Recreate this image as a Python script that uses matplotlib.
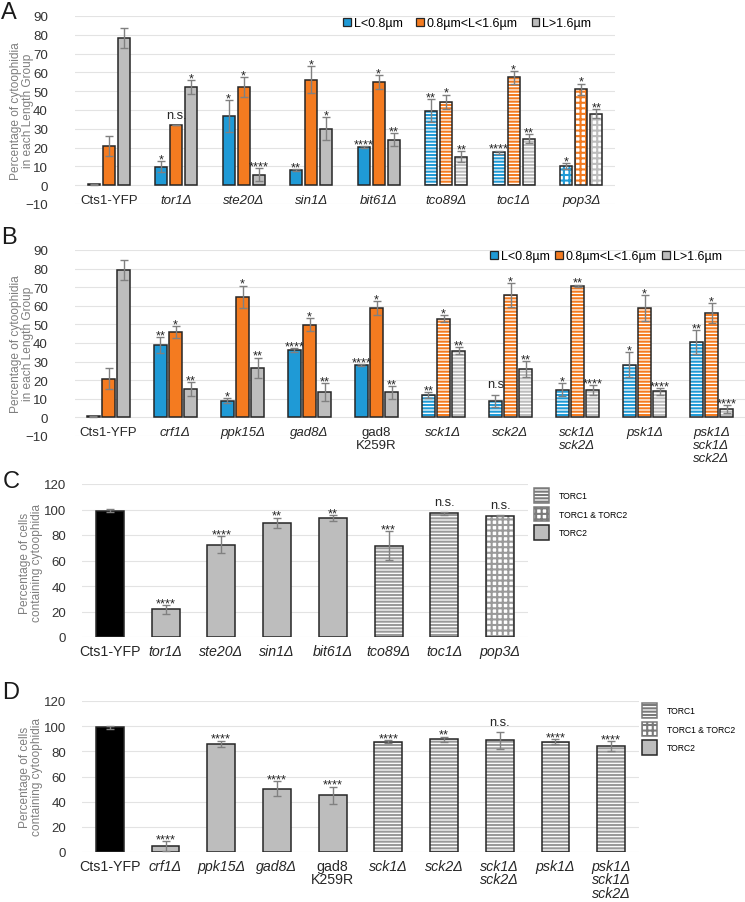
import numpy as np
import matplotlib.pyplot as plt
import matplotlib as mpl
from matplotlib.patches import Patch

mpl.rc('font', family=['Liberation Sans', 'DejaVu Sans'])
mpl.rc('hatch', linewidth=1.5)

W, H = 745, 903
blue = '#1f9ad6'
orange = '#f47b20'
grey = '#bdbdbd'
edge = '#262626'
errc = '#808080'

# ---------- panel A ----------
a_labels = ['Cts1-YFP', 'tor1Δ', 'ste20Δ', 'sin1Δ', 'bit61Δ', 'tco89Δ', 'toc1Δ', 'pop3Δ']
a_pattern = ['', '', '', '', '', '-', '-', '+']
a_short = [0.5, 9.9, 36.7, 7.9, 20.3, 39.7, 17.6, 10.2]
a_short_err = [0.3, 2.9, 8.5, 0.5, 0.4, 6.2, 0.8, 1.6]
a_mid = [20.8, 32.1, 52.2, 56.1, 55.0, 44.4, 57.3, 51.1]
a_mid_err = [5.3, 0.0, 5.3, 7.3, 3.7, 3.8, 3.3, 2.9]
a_long = [78.5, 52.2, 5.5, 30.0, 24.3, 15.2, 24.7, 38.1]
a_long_err = [5.3, 3.5, 3.4, 6.2, 3.4, 2.9, 2.4, 2.4]
a_short_sig = ['', '*', '*', '**', '****', '**', '****', '*']
a_mid_sig = ['', 'n.s.', '*', '*', '*', '*', '*', '*']
a_long_sig = ['', '*', '****', '*', '**', '**', '**', '**']

# ---------- panel B ----------
b_labels = ['Cts1-YFP', 'crf1Δ', 'ppk15Δ', 'gad8Δ', 'gad8\nK259R', 'sck1Δ', 'sck2Δ',
            'sck1Δ\nsck2Δ', 'psk1Δ', 'psk1Δ\nsck1Δ\nsck2Δ']
b_pattern = ['', '', '', '', '', '-', '-', '-', '-', '-']
b_short = [0.5, 38.8, 8.9, 36.3, 28.1, 12.0, 8.9, 15.0, 28.3, 40.6]
b_short_err = [0.3, 4.2, 1.4, 0.9, 0.5, 1.7, 3.4, 3.4, 6.7, 6.4]
b_mid = [20.9, 46.0, 64.8, 49.9, 58.9, 53.1, 65.7, 70.7, 58.7, 56.0]
b_mid_err = [5.6, 3.2, 6.1, 3.6, 3.8, 1.8, 6.3, 0.7, 6.9, 5.4]
b_long = [79.1, 15.2, 26.7, 13.8, 13.4, 35.8, 25.9, 14.7, 14.0, 4.5]
b_long_err = [5.4, 3.6, 5.5, 4.8, 3.6, 1.8, 4.3, 2.7, 1.8, 2.0]
b_short_sig = ['', '**', '*', '****', '****', '**', 'n.s', '*', '*', '**']
b_mid_sig = ['', '*', '*', '*', '*', '*', '*', '**', '*', '*']
b_long_sig = ['', '**', '**', '**', '**', '**', '**', '****', '****', '****']

len_names = ['L<0.8µm', '0.8µm<L<1.6µm', 'L>1.6µm']

# ---------- panel C ----------
c_labels = ['Cts1-YFP', 'tor1Δ', 'ste20Δ', 'sin1Δ', 'bit61Δ', 'tco89Δ', 'toc1Δ', 'pop3Δ']
c_group = ['wt', 'TORC2', 'TORC2', 'TORC2', 'TORC2', 'TORC1', 'TORC1', 'TORC1 & TORC2']
c_vals = [99.1, 21.6, 72.5, 89.5, 93.4, 71.7, 97.0, 95.2]
c_err = [1.4, 3.5, 6.6, 4.2, 2.1, 11.3, 1.0, 0.5]
c_sig = ['', '****', '****', '**', '**', '***', 'n.s.', 'n.s.']

# ---------- panel D ----------
d_labels = ['Cts1-YFP', 'crf1Δ', 'ppk15Δ', 'gad8Δ', 'gad8\nK259R', 'sck1Δ', 'sck2Δ',
            'sck1Δ\nsck2Δ', 'psk1Δ', 'psk1Δ\nsck1Δ\nsck2Δ']
d_group = ['wt', 'TORC2', 'TORC2', 'TORC2', 'TORC2', 'TORC1', 'TORC1', 'TORC1', 'TORC1', 'TORC1']
d_vals = [99.0, 4.7, 85.8, 50.4, 45.1, 87.7, 89.5, 88.7, 87.7, 84.3]
d_err = [1.0, 3.7, 2.6, 6.2, 6.9, 1.3, 2.1, 6.8, 2.1, 3.7]
d_sig = ['', '****', '****', '****', '****', '****', '**', 'n.s.', '****', '****']

torc_names = ['TORC1', 'TORC1 & TORC2', 'TORC2']
hatches = {'-': '-----', '+': '+++'}


def draw_bar(ax, x, h, w, color, pat):
    if pat:
        ax.bar(x, h, w, color='white', edgecolor=color, hatch=hatches[pat], lw=0)
    else:
        ax.bar(x, h, w, color=color, lw=0)
    ax.bar(x, h, w, fill=False, edgecolor=edge, lw=1.1)


def sig_text(ax, x, top, s, fs):
    if not s:
        return
    if s.startswith('n'):
        ax.annotate(s, (x, top), xytext=(0, 3), textcoords='offset points',
                    ha='center', va='bottom', fontsize=fs, color='#262626')
    else:
        ax.annotate(s, (x, top), xytext=(0, -3), textcoords='offset points',
                    ha='center', va='bottom', fontsize=fs, color='#262626')


def style(ax, ticks, ylim, n, pad, fs):
    ax.set_ylim(*ylim)
    ax.set_xlim(-0.5, n - 0.5)
    ax.set_yticks(ticks)
    ax.yaxis.grid(True, color='#e3e3e3', lw=0.8)
    ax.set_axisbelow(True)
    for s in ax.spines.values():
        s.set_visible(False)
    ax.tick_params(left=False, bottom=False, labelbottom=False, pad=pad,
                   labelsize=fs, labelcolor='#333333')


def xlabels(ax, labels, fs, off, ls):
    for i, lab in enumerate(labels):
        ax.annotate(lab, (i, 0), xytext=(0, off), textcoords='offset points',
                    ha='center', va='top', fontsize=fs, color='#262626',
                    style='italic' if 'Δ' in lab else 'normal', linespacing=ls)


def grouped(ax, labels, pattern, series, errs, sigs):
    x = np.arange(len(labels))
    w, off = 0.18, 0.224
    colors = [blue, orange, grey]
    for k in range(3):
        xs = x + (k - 1) * off
        for i in range(len(labels)):
            draw_bar(ax, xs[i], series[k][i], w, colors[k], pattern[i])
        ax.errorbar(xs, series[k], yerr=errs[k], fmt='none', ecolor=errc,
                    elinewidth=1, capsize=3, capthick=1)
        for i in range(len(labels)):
            sig_text(ax, xs[i], series[k][i] + errs[k][i], sigs[k][i], 9.3)
    style(ax, range(-10, 91, 10), (-10, 90), len(labels), 16, 9.6)
    xlabels(ax, labels, 9.5, -6, 1.15)


def single(ax, labels, group, vals, err, sig):
    x = np.arange(len(labels))
    for i in range(len(labels)):
        g = group[i]
        if g == 'wt':
            draw_bar(ax, x[i], vals[i], 0.5, 'black', '')
        elif g == 'TORC2':
            draw_bar(ax, x[i], vals[i], 0.5, grey, '')
        elif g == 'TORC1':
            draw_bar(ax, x[i], vals[i], 0.5, '#9a9a9a', '-')
        else:
            draw_bar(ax, x[i], vals[i], 0.5, '#9a9a9a', '+')
    ax.errorbar(x, vals, yerr=err, fmt='none', ecolor=errc, elinewidth=1,
                capsize=3, capthick=1)
    for i in range(len(labels)):
        sig_text(ax, x[i], vals[i] + err[i], sig[i], 9.3)
    style(ax, range(0, 121, 20), (0, 120), len(labels), 8, 9.5)
    xlabels(ax, labels, 10.2, -5, 0.95)


def torc_legend(fig, x, y):
    handles = [Patch(facecolor='white', edgecolor='#7a7a7a', hatch='-----', lw=1.1),
               Patch(facecolor='white', edgecolor='#7a7a7a', hatch='+++', lw=1.1),
               Patch(facecolor=grey, edgecolor=edge, lw=1.1)]
    fig.legend(handles, torc_names, loc='upper left', bbox_to_anchor=(x / W, 1 - y / H),
               frameon=False, fontsize=6.2, handlelength=1.7, handleheight=2.24,
               handletextpad=1.2, labelspacing=0.45, borderpad=0, borderaxespad=0)


fig = plt.figure(figsize=(W / 100, H / 100), dpi=100)

axA = fig.add_axes([75 / W, 1 - 205 / H, 540 / W, 188 / H])
grouped(axA, a_labels, a_pattern, [a_short, a_mid, a_long],
        [a_short_err, a_mid_err, a_long_err], [a_short_sig, a_mid_sig, a_long_sig])
hA = [Patch(facecolor=c, edgecolor=edge, lw=0.9) for c in (blue, orange, grey)]
fig.legend(hA, len_names, loc='center left', bbox_to_anchor=(343 / W, 1 - 24 / H),
           ncol=3, frameon=False, fontsize=9, handlelength=0.6, handleheight=0.6,
           handletextpad=0.25, columnspacing=1.1, borderpad=0, borderaxespad=0)

axB = fig.add_axes([75 / W, 1 - 437 / H, 670 / W, 186 / H])
grouped(axB, b_labels, b_pattern, [b_short, b_mid, b_long],
        [b_short_err, b_mid_err, b_long_err], [b_short_sig, b_mid_sig, b_long_sig])
fig.legend(hA, len_names, loc='center left', bbox_to_anchor=(490 / W, 1 - 257 / H),
           ncol=3, frameon=False, fontsize=9, handlelength=0.6, handleheight=0.6,
           handletextpad=0.25, columnspacing=0.45, borderpad=0, borderaxespad=0)

axC = fig.add_axes([82 / W, 1 - 638 / H, 446 / W, 153 / H])
single(axC, c_labels, c_group, c_vals, c_err, c_sig)
torc_legend(fig, 534, 489)

axD = fig.add_axes([82 / W, 1 - 853 / H, 557 / W, 151 / H])
single(axD, d_labels, d_group, d_vals, d_err, d_sig)
torc_legend(fig, 642, 704)

# y axis titles
for yc, xc, txt in [(111, 22, 'Percentage of cytoophidia\nin each Length Group'),
                    (344, 22, 'Percentage of cytoophidia\nin each Length Group'),
                    (563, 31, 'Percentage of cells\ncontaining cytoophidia'),
                    (777, 31, 'Percentage of cells\ncontaining cytoophidia')]:
    fig.text(xc / W, 1 - yc / H, txt, rotation=90, ha='center', va='center',
             fontsize=8.6, color='#7f7f7f', linespacing=1.05)

# panel letters
for yc, xc, letter in [(13, 1, 'A'), (238, 1, 'B'), (482, 3, 'C'), (693, 2, 'D')]:
    fig.text(xc / W, 1 - yc / H, letter, ha='left', va='center', fontsize=17,
             color='#1a1a1a')

fig.savefig('out.png', dpi=100)
